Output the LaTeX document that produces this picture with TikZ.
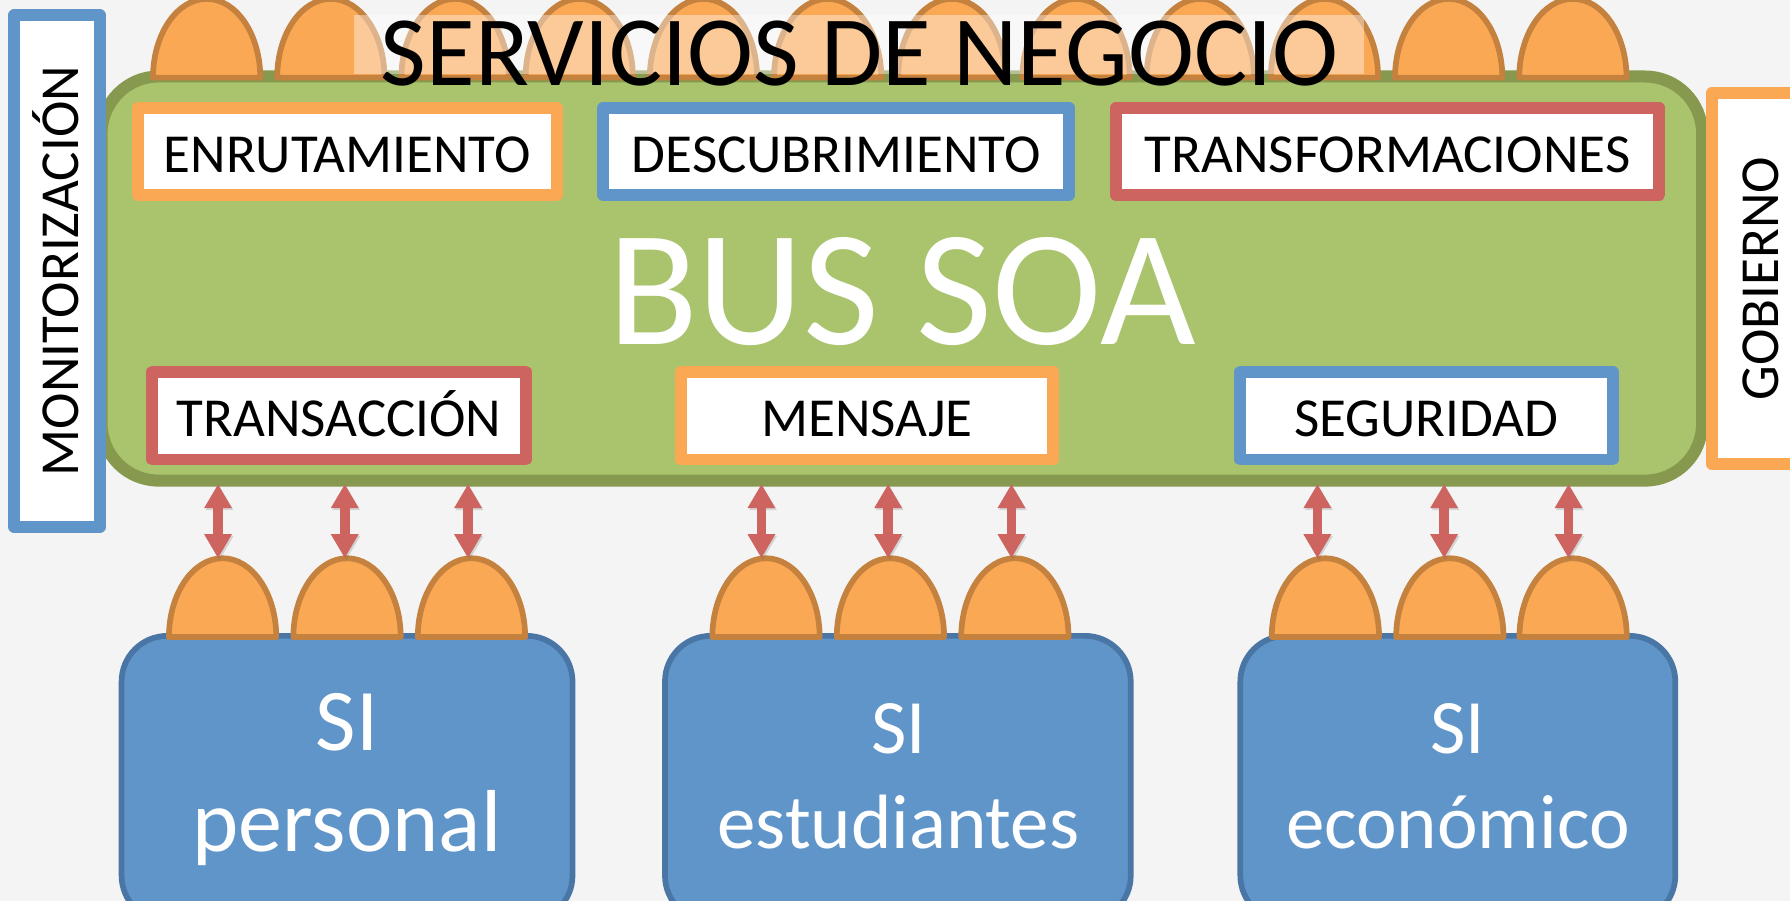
\documentclass[tikz,border=0pt]{standalone}
\usepackage{fontspec}
\setmainfont{Carlito}
\usetikzlibrary{arrows.meta}
\definecolor{bgc}{HTML}{F4F4F4}
\definecolor{busf}{HTML}{A9C46C}
\definecolor{busd}{HTML}{86994F}
\definecolor{ora}{HTML}{FBA854}
\definecolor{orad}{HTML}{C5813E}
\definecolor{redc}{HTML}{CD645F}
\definecolor{blu}{HTML}{6095C9}
\definecolor{blud}{HTML}{4A76A6}
\def\u{1.1416pt}
\newcommand{\eggshape}[3]{%
  \draw[eggst] (#1-47,#2) .. controls (#1-47,#2-38) and (#1-26,#2-69) .. (#1,#2-69)
    .. controls (#1+26,#2-69) and (#1+47,#2-38) .. (#1+47,#2) -- cycle;
  \coordinate (#3) at (#1,#2-69);}
\tikzset{
  x=\u,y=-\u,
  eggst/.style={fill=ora,draw=orad,line width=5*\u,line join=round},
  framebox/.style={draw=#1,fill=white,line width=10.5*\u,line join=round,inner sep=0pt,font=\fontsize{55}{55}\selectfont,text=black,text height=42pt,text depth=0pt},
  sibox/.style={fill=blu,draw=blud,line width=5*\u,rounded corners=40*\u,inner sep=0pt},
  silabel/.style={text=white,inner sep=0pt,align=center},
  arr/.style={{Triangle[width=26pt,length=24pt]}-{Triangle[width=26pt,length=24pt]},draw=redc,fill=redc,line width=9.5pt,
    preaction={draw=black!60,fill=black!60,opacity=.22,transform canvas={shift={(1.5pt,-2pt)}}}},
}
\begin{document}
\begin{tikzpicture}
\useasboundingbox (0,0) rectangle (1568,789.2);
\clip (0,0) rectangle (1568,789.2);
\fill[bgc] (0,0) rectangle (1568,789.2);
% bus
\node[fill=busf,draw=busd,line width=10.5*\u,rounded corners=50*\u,minimum width=1402*\u,minimum height=354*\u,inner sep=0pt] (bus) at (790,244) {};
% top eggs
\foreach \i in {0,...,11}{\pgfmathsetmacro{\cx}{181+\i*108.8}\eggshape{\cx}{68}{t\i}}
% side frames
\node[framebox=blu,rotate=90,minimum width=448*\u,minimum height=75*\u] (mon) at (50,237.5) {MONITORIZACIÓN};
\node[framebox=ora,rotate=90,minimum width=325*\u,minimum height=87*\u,text height=34pt] (gob) at (1543,244) {GOBIERNO};
% title
\node[fill=white,fill opacity=.4,minimum width=885*\u,minimum height=52*\u,inner sep=0pt] (titlebg) at (752.5,39) {};
\node[inner sep=0pt,font=\fontsize{99.5}{99.5}\selectfont,text=black] (title) at (753,47) {SERVICIOS DE NEGOCIO};
% service frames
\node[framebox=ora,minimum width=367*\u,minimum height=76*\u] (f1) at (304,132.5) {ENRUTAMIENTO};
\node[framebox=blu,minimum width=408*\u,minimum height=76*\u] (f2) at (732.5,132.5) {DESCUBRIMIENTO};
\node[framebox=redc,minimum width=476*\u,minimum height=76*\u] (f3) at (1215.5,132.5) {TRANSFORMACIONES};
\node[framebox=redc,minimum width=327*\u,minimum height=77*\u] (f4) at (297,364) {TRANSACCIÓN};
\node[framebox=ora,minimum width=326*\u,minimum height=77*\u] (f5) at (759.5,364) {MENSAJE};
\node[framebox=blu,minimum width=326*\u,minimum height=77*\u] (f6) at (1249.5,364) {SEGURIDAD};
\node[text=white,inner sep=0pt,font=\fontsize{165}{165}\selectfont] (soa) at (790,255) {BUS SOA};
% SI boxes
\node[sibox,minimum width=395*\u,minimum height=250*\u] (s1) at (304,682) {};
\node[sibox,minimum width=408*\u,minimum height=250*\u] (s2) at (786.5,682) {};
\node[sibox,minimum width=381*\u,minimum height=250*\u] (s3) at (1277,682) {};
\node[silabel,font=\fontsize{88}{88}\selectfont] (s1a) at (304,633) {SI};
\node[silabel,font=\fontsize{88}{88}\selectfont] (s1b) at (304,725) {personal};
\node[silabel,font=\fontsize{77}{77}\selectfont] (s2a) at (787,638) {SI};
\node[silabel,font=\fontsize{77}{77}\selectfont] (s2b) at (787,720) {estudiantes};
\node[silabel,font=\fontsize{77}{77}\selectfont] (s3a) at (1277,638) {SI};
\node[silabel,font=\fontsize{77}{77}\selectfont] (s3b) at (1277,720) {económico};
% bottom eggs
\eggshape{195}{558}{b1}\eggshape{304}{558}{b2}\eggshape{413}{558}{b3}
\eggshape{671}{558}{b4}\eggshape{780}{558}{b5}\eggshape{889}{558}{b6}
\eggshape{1161}{558}{b7}\eggshape{1270}{558}{b8}\eggshape{1378}{558}{b9}
% connectors
\foreach \i/\x in {1/191,2/302,3/410,4/667,5/778,6/886,7/1154,8/1265,9/1374}{
  \coordinate (u\i) at (\x,424);
  \coordinate (d\i) at (\x,489);
  \draw[arr] (u\i) -- (d\i);
}
\end{tikzpicture}
\end{document}
